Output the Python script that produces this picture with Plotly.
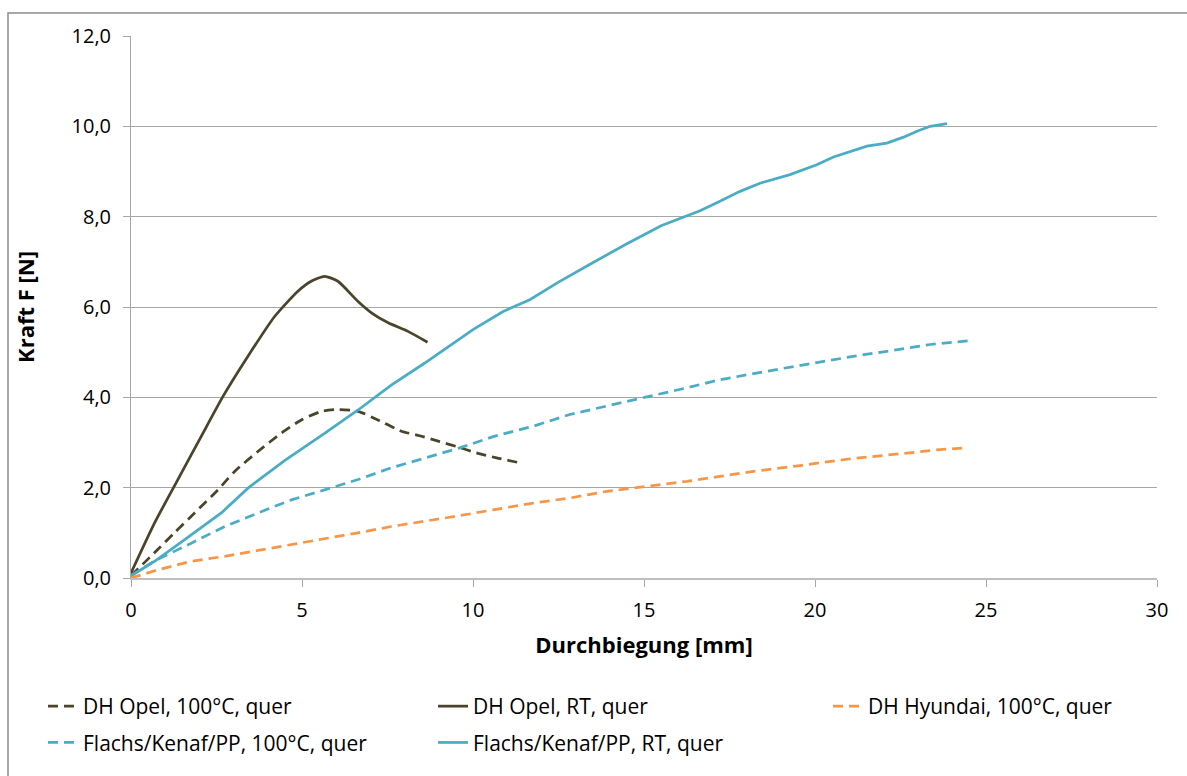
import plotly.graph_objects as go

# Durchbiegung [mm] / Kraft F [N] measurement curves
opel_100_x = [0, 0.78, 1.27, 1.86, 2.54, 3.03, 3.71, 4.40, 4.98, 5.57, 6.05, 6.64, 7.22, 7.91, 8.44, 9.03, 9.52, 10.10, 10.69, 11.37]
opel_100_y = [0.05, 0.63, 1.00, 1.44, 1.95, 2.36, 2.80, 3.21, 3.50, 3.69, 3.73, 3.69, 3.50, 3.25, 3.15, 3.02, 2.91, 2.77, 2.66, 2.55]

opel_rt_x = [0, 0.69, 1.37, 2.05, 2.69, 3.42, 4.20, 4.88, 5.27, 5.66, 6.05, 6.64, 7.03, 7.52, 8.10, 8.67]
opel_rt_y = [0.11, 1.22, 2.18, 3.13, 4.02, 4.91, 5.79, 6.35, 6.57, 6.68, 6.57, 6.12, 5.87, 5.65, 5.46, 5.22]

hyundai_100_x = [0, 0.78, 1.76, 2.74, 3.71, 4.69, 5.66, 6.64, 7.61, 8.59, 9.61, 10.59, 11.76, 12.83, 13.91, 15.08, 16.25, 17.22, 18.10, 19.56, 21.03, 22.49, 23.47, 24.34]
hyundai_100_y = [0, 0.18, 0.37, 0.48, 0.61, 0.74, 0.86, 1.00, 1.14, 1.25, 1.38, 1.51, 1.66, 1.77, 1.92, 2.03, 2.14, 2.25, 2.35, 2.49, 2.64, 2.75, 2.83, 2.88]

flachs_100_x = [0, 0.69, 1.76, 2.74, 3.71, 4.69, 5.66, 6.64, 7.61, 8.59, 9.61, 10.59, 11.76, 12.83, 13.91, 15.08, 16.25, 17.22, 18.98, 20.05, 21.22, 22.29, 23.37, 24.64]
flachs_100_y = [0.05, 0.38, 0.77, 1.14, 1.44, 1.73, 1.95, 2.18, 2.44, 2.66, 2.88, 3.13, 3.36, 3.62, 3.80, 4.01, 4.21, 4.39, 4.63, 4.77, 4.92, 5.04, 5.17, 5.26]

flachs_rt_x = [0, 0.69, 1.57, 2.64, 3.42, 4.49, 5.66, 6.64, 7.61, 8.59, 10.0, 10.88, 11.66, 12.5, 13.5, 14.5, 15.5, 16.64, 17.22, 17.81, 18.39, 19.27, 20.05, 20.54, 21.52, 22.10, 22.59, 22.98, 23.37, 23.86]
flachs_rt_y = [0.05, 0.37, 0.85, 1.44, 1.99, 2.60, 3.20, 3.72, 4.27, 4.76, 5.50, 5.90, 6.16, 6.55, 6.98, 7.40, 7.80, 8.13, 8.34, 8.56, 8.74, 8.93, 9.15, 9.32, 9.56, 9.63, 9.76, 9.89, 10.00, 10.06]

series_names = [
    "DH Opel, 100°C, quer",
    "DH Opel, RT, quer",
    "DH Hyundai, 100°C, quer",
    "Flachs/Kenaf/PP, 100°C, quer",
    "Flachs/Kenaf/PP, RT, quer",
]

OLIVE = "#4A452A"
ORANGE = "#F79646"
CYAN = "#4BACC6"
DASH = "10px,6px"
FONT = "Open Sans"
LW = 2.75

fig = go.Figure()

fig.add_trace(go.Scatter(x=opel_100_x, y=opel_100_y, mode="lines", name=series_names[0],
                         line=dict(color=OLIVE, width=LW, dash=DASH, shape="spline", smoothing=0.6),
                         legend="legend", legendgroup="a"))
fig.add_trace(go.Scatter(x=flachs_100_x, y=flachs_100_y, mode="lines", name=series_names[3],
                         line=dict(color=CYAN, width=LW, dash=DASH), legend="legend", legendgroup="b"))
fig.add_trace(go.Scatter(x=opel_rt_x, y=opel_rt_y, mode="lines", name=series_names[1],
                         line=dict(color=OLIVE, width=LW, shape="spline", smoothing=0.6),
                         legend="legend2", legendgroup="c"))
fig.add_trace(go.Scatter(x=flachs_rt_x, y=flachs_rt_y, mode="lines", name=series_names[4],
                         line=dict(color=CYAN, width=LW), legend="legend2", legendgroup="d"))
fig.add_trace(go.Scatter(x=hyundai_100_x, y=hyundai_100_y, mode="lines", name=series_names[2],
                         line=dict(color=ORANGE, width=LW, dash=DASH), legend="legend3", legendgroup="e"))

legend_common = dict(
    orientation="v",
    font=dict(family=FONT, size=21, color="#000000"),
    bgcolor="rgba(0,0,0,0)",
    xanchor="left",
    yanchor="top",
    traceorder="grouped",
    itemwidth=30,
    tracegroupgap=6,
)

plot_l, plot_r, plot_t, plot_b = 131, 1157, 36, 578
W, H = 1187, 776
pw = plot_r - plot_l
ph = plot_b - plot_t


def px_to_paper_x(px):
    return (px - plot_l) / pw


def px_to_paper_y(py):
    return (plot_b - py) / ph


legend_top = 686
fig.update_layout(
    width=W,
    height=H,
    margin=dict(l=plot_l, r=W - plot_r, t=plot_t, b=H - plot_b),
    paper_bgcolor="white",
    plot_bgcolor="white",
    separators=",.",
    font=dict(family=FONT, size=20, color="#000000"),
    legend=dict(legend_common, x=px_to_paper_x(43), y=px_to_paper_y(legend_top)),
    legend2=dict(legend_common, x=px_to_paper_x(433), y=px_to_paper_y(legend_top)),
    legend3=dict(legend_common, x=px_to_paper_x(828), y=px_to_paper_y(legend_top)),
    xaxis=dict(
        range=[0, 30],
        tickvals=[0, 5, 10, 15, 20, 25, 30],
        tickformat="d",
        showgrid=False,
        zeroline=False,
        showline=True,
        linecolor="#BFBFBF",
        linewidth=1.5,
        ticks="outside",
        ticklen=7,
        tickcolor="#A6A6A6",
        ticklabelstandoff=6,
        tickfont=dict(family=FONT, size=20),
        title=dict(text="<b>Durchbiegung [mm]</b>", font=dict(family=FONT, size=22), standoff=16),
    ),
    yaxis=dict(
        range=[0, 12],
        tickvals=[0, 2, 4, 6, 8, 10, 12],
        tickformat=".1f",
        showgrid=True,
        gridcolor="#A6A6A6",
        gridwidth=1,
        zeroline=False,
        showline=True,
        linecolor="#A6A6A6",
        linewidth=1,
        ticks="outside",
        ticklen=7,
        tickcolor="#A6A6A6",
        ticklabelstandoff=8,
        tickfont=dict(family=FONT, size=20),
        title=dict(text="<b>Kraft F [N]</b>", font=dict(family=FONT, size=22), standoff=30),
    ),
)

# Outer chart frame
fig.add_shape(
    type="rect", xref="paper", yref="paper",
    x0=px_to_paper_x(8), x1=px_to_paper_x(1200),
    y0=px_to_paper_y(800), y1=px_to_paper_y(13),
    line=dict(color="#8C8C8C", width=1.5), fillcolor="rgba(0,0,0,0)", layer="below",
)

fig.write_html("out.html")
